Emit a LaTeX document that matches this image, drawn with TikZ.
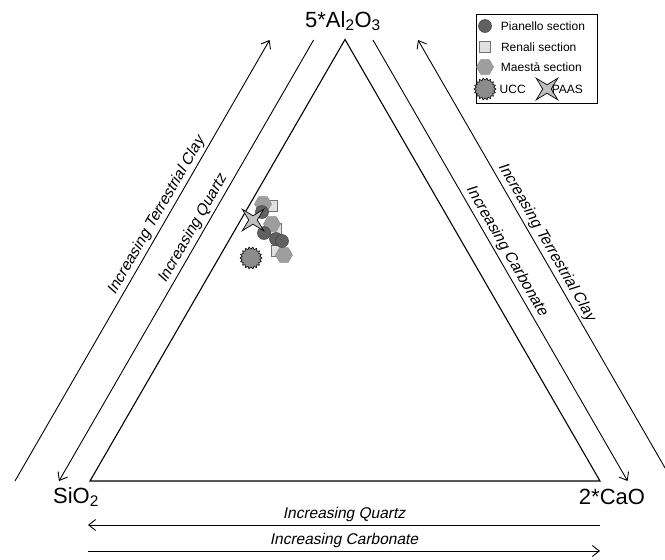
\documentclass[tikz,border=0pt]{standalone}
\usepackage{fontspec}
\setmainfont{Liberation Sans}
\newfontfamily\trendfont{Liberation Sans}[FakeSlant=0.21]
\usetikzlibrary{positioning, arrows.meta, shapes.geometric}
\tikzset{>={Straight Barb[length=7pt, width=11pt]}}

\begin{document}
\begin{tikzpicture}
    [
        x=1pt, y=-1pt,
        axis_line/.style={line width=1.1pt},
        trend_arrow/.style={line width=0.9pt},
        trend_label/.style={font=\fontsize{15.5}{15.5}\trendfont, inner sep=2.5pt},
        corner_label/.style={font=\fontsize{22}{22}\selectfont, inner sep=0pt},
        legend_text/.style={font=\fontsize{12}{12}\selectfont, inner sep=0pt},
        pianello/.style={circle, draw=black!75, fill=black!62, line width=0.5pt, minimum size=13pt, inner sep=0pt},
        renali/.style={rectangle, draw=black!55, fill=black!12, line width=0.6pt, minimum size=11pt, inner sep=0pt},
        maesta/.style={regular polygon, regular polygon sides=6, draw=black!45, fill=black!38, line width=0.5pt, minimum size=17pt, inner sep=0pt},
        ucc/.style={star, star points=18, star point ratio=0.82, draw=black, fill=black!45, line width=0.6pt, minimum size=18pt, inner sep=0pt},
        paas/.style={star, star points=4, star point ratio=0.28, draw=black, fill=black!25, line width=0.7pt, minimum size=8.5pt, inner sep=0pt},
    ]

  \useasboundingbox (0,0) rectangle (665,560);

  % ternary triangle
  \coordinate (apex) at (345,39.5);
  \coordinate (si) at (90,481);
  \coordinate (ca) at (600,481);
  \draw[axis_line] (apex) -- (si) -- (ca) -- cycle;

  \node[corner_label] (lab_al) at (343,21) {5*Al\textsubscript{2}O\textsubscript{3}};
  \node[corner_label] (lab_si) at (76,497) {SiO\textsubscript{2}};
  \node[corner_label] (lab_ca) at (612,497) {2*CaO};

  % trend arrows along the sides
  \coordinate (tcl_b) at (15,481);
  \coordinate (tcl_t) at (269.6,40);
  \coordinate (qz_t) at (313.6,40);
  \coordinate (qz_b) at (59,481);
  \coordinate (cb_t) at (373,40);
  \coordinate (cb_b) at (627.6,481);
  \coordinate (tcr_t) at (418,40);
  \coordinate (tcr_b) at (672.6,481);

  \draw[trend_arrow, ->] (tcl_b) -- node[trend_label, sloped, above, pos=0.59] {Increasing Terrestrial Clay} (tcl_t);
  \draw[trend_arrow, <-] (qz_b) -- node[trend_label, sloped, above, pos=0.56] {Increasing Quartz} (qz_t);
  \draw[trend_arrow, ->] (cb_t) -- node[trend_label, sloped, above, pos=0.49] {Increasing Carbonate} (cb_b);
  \draw[trend_arrow, <-] (tcr_t) -- node[trend_label, sloped, above, pos=0.47] {Increasing Terrestrial Clay} (tcr_b);

  % trend arrows below the base
  \coordinate (qzb_l) at (88,525);
  \coordinate (qzb_r) at (600,525);
  \coordinate (cbb_l) at (88,551);
  \coordinate (cbb_r) at (600,551);

  \draw[trend_arrow, <-] (qzb_l) -- node[trend_label, above] {Increasing Quartz} (qzb_r);
  \draw[trend_arrow, ->] (cbb_l) -- node[trend_label, above] {Increasing Carbonate} (cbb_r);

  % samples
  \node[renali] (ren1) at (272,206) {};
  \node[renali] (ren2) at (276,229) {};
  \node[renali] (ren3) at (277,251) {};
  \node[maesta] (mae1) at (263,204) {};
  \node[maesta] (mae2) at (272,224) {};
  \node[maesta] (mae3) at (284,255) {};
  \node[pianello] (pia1) at (262,212) {};
  \node[pianello] (pia2) at (264,233) {};
  \node[pianello] (pia3) at (276,239) {};
  \node[pianello] (pia4) at (282,241) {};
  \node[paas] (paas) at (253,220) {};
  \node[ucc] (ucc) at (251,258) {};

  % legend
  \node[draw, line width=0.9pt, minimum width=121pt, minimum height=89pt, inner sep=0pt, anchor=north west] (legend) at (476,14) {};
  \node[pianello] (leg_pia) at (485,26) {};
  \node[renali] (leg_ren) at (485,47) {};
  \node[maesta] (leg_mae) at (485,67) {};
  \node[ucc] (leg_ucc) at (485,89) {};
  \node[paas] (leg_paas) at (547,89) {};
  \node[legend_text, right=9pt of leg_pia] {Pianello section};
  \node[legend_text, right=10pt of leg_ren] {Renali section};
  \node[legend_text, right=7pt of leg_mae] {Maestà section};
  \node[legend_text, right=3pt of leg_ucc] {UCC};
  \node[legend_text, right=0pt of leg_paas] {PAAS};
\end{tikzpicture}
\end{document}
